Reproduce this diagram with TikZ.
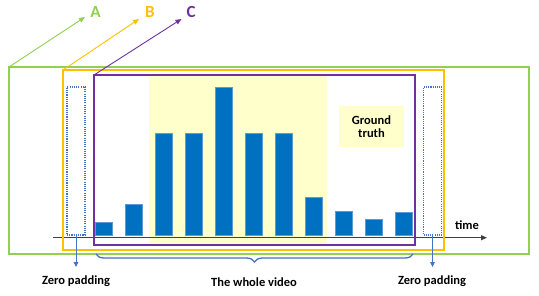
\documentclass[tikz,border=0pt]{standalone}
\usepackage{fontspec}
\setmainfont{Carlito}
\usetikzlibrary{decorations.pathreplacing,arrows.meta}
\definecolor{cgreen}{HTML}{92D050}
\definecolor{corange}{HTML}{FFC000}
\definecolor{cpurple}{HTML}{7030A0}
\definecolor{cbar}{HTML}{0070C0}
\definecolor{cbarline}{HTML}{5B9BD5}
\definecolor{cyel}{HTML}{FFFFCC}
\definecolor{cblue}{HTML}{4472C4}
\definecolor{caxis}{HTML}{404040}
\begin{document}
\begin{tikzpicture}[x=1pt,y=-1pt,
  frame/.style={draw, line width=2pt, inner sep=0pt, outer sep=0pt},
  bar/.style={fill=cbar, draw=cbarline, line width=0.6pt, inner sep=0pt, outer sep=0pt, minimum width=17pt, anchor=south},
  lab/.style={font=\bfseries\fontsize{12.5}{14}\selectfont, text=black},
  big/.style={font=\bfseries\fontsize{17}{20}\selectfont},
  pad/.style={draw=cblue, dash pattern=on 1.1pt off 1.1pt, line width=1.1pt, inner sep=0pt, outer sep=0pt, minimum width=18pt, minimum height=148pt},
  ptr/.style={line width=0.9pt, -{Triangle[length=6pt,width=5pt]}},
  down/.style={draw=cblue, line width=0.9pt, -{Triangle[length=5pt,width=4.5pt]}}
  ]
\useasboundingbox (0,0) rectangle (539,295);
% yellow background
\node[fill=cyel, inner sep=0pt, minimum width=178pt, minimum height=171pt] (yel) at (238,160.5) {};
% ground truth
\node[fill=cyel, inner sep=0pt, minimum width=65pt, minimum height=41pt, align=center, lab] (gt) at (371.5,126.5) {Ground\\[-1pt]truth};
% bars
\foreach \i/\h in {0/13,1/30.7,2/101.7,3/101.7,4/147.3,5/101.7,6/101.7,7/37.7,8/23.3,9/15.7,10/22.3}{
  \node[bar, minimum height=\h pt] (bar\i) at ({104+30*\i},235) {};
}
% padding boxes
\node[pad] (padL) at (76,161) {};
\node[pad] (padR) at (432.5,161) {};
% axis
\coordinate (ax0) at (53,237.7);
\coordinate (ax1) at (487,237.7);
\draw[caxis, line width=1.1pt, -{Triangle[length=6pt,width=5pt]}] (ax0) -- (ax1);
\node[lab] (time) at (467,225) {time};
% frames
\node[frame, draw=cgreen, minimum width=520pt, minimum height=187pt] (green) at (269,160.5) {};
\node[frame, draw=corange, minimum width=381pt, minimum height=180pt] (orange) at (253.5,160) {};
\node[frame, draw=cpurple, minimum width=321pt, minimum height=170pt] (purple) at (254.5,160) {};
% labels A B C
\node[big, text=cgreen] (A) at (95.5,12) {A};
\node[big, text=corange] (B) at (150,12) {B};
\node[big, text=cpurple] (C) at (191,12) {C};
\coordinate (tA) at (85,17);
\coordinate (tB) at (139,19);
\coordinate (tC) at (181.5,19);
\draw[ptr, cgreen] (green.north west) -- (tA);
\draw[ptr, corange] (orange.north west) -- (tB);
\draw[ptr, cpurple] (purple.north west) -- (tC);
% down arrows
\coordinate (dL) at (76,267);
\coordinate (dR) at (432.5,267);
\draw[down] (padL.south) -- (dL);
\draw[down] (padR.south) -- (dR);
% brace
\coordinate (brR) at (413,254);
\coordinate (brL) at (96,254);
\draw[cblue, line width=1.3pt, decorate, decoration={brace, amplitude=8pt}] (brR) -- (brL);
% bottom labels
\node[lab] (zl) at (76,281) {Zero padding};
\node[lab] (wv) at (254,282) {The whole video};
\node[lab] (zr) at (432,281) {Zero padding};
\end{tikzpicture}
\end{document}
